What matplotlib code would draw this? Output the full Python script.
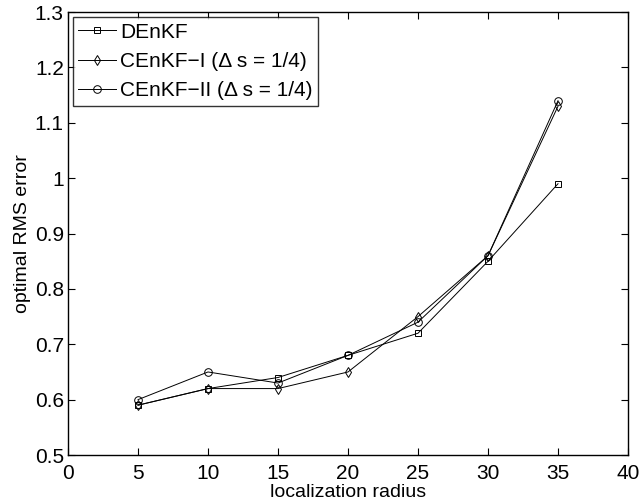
import numpy as np
import matplotlib
matplotlib.use('Agg')
import matplotlib.pyplot as plt

plt.rcParams['font.family'] = ['Liberation Sans', 'DejaVu Sans']

radius = [5, 10, 15, 20, 25, 30, 35]
denkf = [0.59, 0.62, 0.64, 0.68, 0.72, 0.85, 0.99]
cenkf_1 = [0.59, 0.62, 0.62, 0.65, 0.75, 0.86, 1.13]
cenkf_2 = [0.60, 0.65, 0.63, 0.68, 0.74, 0.86, 1.14]

fig = plt.figure(figsize=(6.39, 5.01), dpi=100)
ax = fig.add_axes([0.1064, 0.0918, 0.8764, 0.884])

ax.plot(radius, denkf, 'k-', marker='s', mfc='none', ms=4.5, lw=0.7, mew=0.7, label='DEnKF')
ax.plot(radius, cenkf_1, 'k-', marker='d', mfc='none', ms=5.5, lw=0.7, mew=0.7,
        label='CEnKF\u2212I (\u0394 s = 1/4)')
ax.plot(radius, cenkf_2, 'k-', marker='o', mfc='none', ms=5.5, lw=0.7, mew=0.7,
        label='CEnKF\u2212II (\u0394 s = 1/4)')

ax.set_xlim(0, 40)
ax.set_ylim(0.5, 1.3)
ax.set_xticks(np.arange(0, 41, 5))
ax.set_yticks(np.arange(0.5, 1.31, 0.1))
ax.set_yticklabels(['0.5', '0.6', '0.7', '0.8', '0.9', '1', '1.1', '1.2', '1.3'])
ax.tick_params(direction='in', top=True, right=True, labelsize=15, length=5, width=0.8)
ax.tick_params(axis='x', pad=6.5)
ax.tick_params(axis='y', pad=3)
for s in ax.spines.values():
    s.set_linewidth(1.0)

ax.set_xlabel('localization radius', fontsize=14, labelpad=0.5)
ax.set_ylabel('optimal RMS error', fontsize=14, labelpad=3)

leg = ax.legend(loc='upper left', fontsize=15, frameon=True, fancybox=False,
                edgecolor='black', handlelength=1.8, handletextpad=0.2,
                borderpad=0.25, labelspacing=0.5, borderaxespad=0.25)
leg.get_frame().set_linewidth(1.0)

fig.savefig('out.png', dpi=100)
